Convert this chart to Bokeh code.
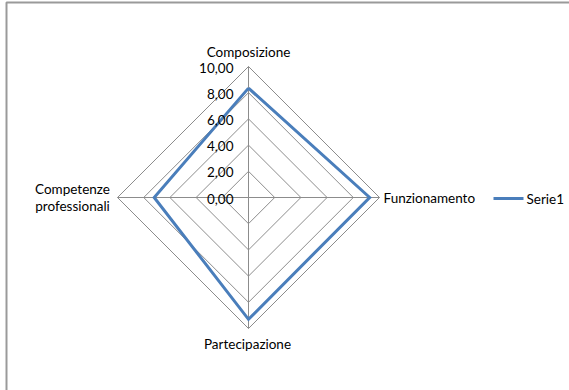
import numpy as np
from bokeh.plotting import figure
from bokeh.models import Range1d
from bokeh.core.properties import value
from bokeh.embed import file_html
from bokeh.resources import INLINE

categories = ["Composizione", "Funzionamento", "Partecipazione", "Competenze professionali"]
serie1 = [8.35, 9.25, 9.30, 7.20]
tick_values = [0, 2, 4, 6, 8, 10]
tick_labels = ["0,00", "2,00", "4,00", "6,00", "8,00", "10,00"]
series_name = "Serie1"

W, H = 569, 390
p = figure(width=W, height=H, output_backend="svg", toolbar_location=None,
           x_range=Range1d(0, W), y_range=Range1d(H, 0), min_border=0)
p.axis.visible = False
p.grid.visible = False
p.outline_line_color = None
p.background_fill_color = "white"

FONT = value("Lato")
FS = "13.5px"
cx, cy = 248.0, 197.0
scale = 13.1  # pixels per unit
angles = np.array([90, 0, -90, 180]) * np.pi / 180.0


def pts(vals):
    v = np.asarray(vals, dtype=float)
    xs = cx + v * scale * np.cos(angles)
    ys = cy - v * scale * np.sin(angles)
    return list(xs) + [xs[0]], list(ys) + [ys[0]]

# chart border
p.line([6, 6, 600], [400, 2, 2], line_color="#9a9a9a", line_width=2)

# grid diamonds
for t in tick_values[1:]:
    xs, ys = pts([t] * 4)
    p.line(xs, ys, line_color="#8c8c8c", line_width=1)
# spokes
for a in angles:
    p.line([cx, cx + 10 * scale * np.cos(a)], [cy, cy - 10 * scale * np.sin(a)],
           line_color="#8c8c8c", line_width=1)

# series
xs, ys = pts(serie1)
p.line(xs, ys, line_color="#4a7ebb", line_width=3, line_join="miter")

# tick labels
p.text(x=[233] * len(tick_values), y=[cy - t * scale + 1 for t in tick_values], text=tick_labels,
       text_font=FONT, text_font_size=FS, text_align="right", text_baseline="middle",
       text_color="#000000")

# category labels
p.text(x=[cx], y=[51], text=[categories[0]], text_font=FONT, text_font_size=FS,
       text_align="center", text_baseline="middle", text_color="#000000")
p.text(x=[383], y=[197], text=[categories[1]], text_font=FONT, text_font_size=FS,
       text_align="left", text_baseline="middle", text_color="#000000")
p.text(x=[cx - 1], y=[343], text=[categories[2]], text_font=FONT, text_font_size=FS,
       text_align="center", text_baseline="middle", text_color="#000000")
w1, w2 = categories[3].split(" ")
p.text(x=[72, 72], y=[188, 205], text=[w1, w2], text_font=FONT, text_font_size=FS,
       text_align="center", text_baseline="middle", text_color="#000000")

# legend
p.line([493, 523], [198, 198], line_color="#4a7ebb", line_width=3)
p.text(x=[526], y=[198], text=[series_name], text_font=FONT, text_font_size=FS,
       text_align="left", text_baseline="middle", text_color="#000000")

open("out.html", "w").write(file_html(p, INLINE))
